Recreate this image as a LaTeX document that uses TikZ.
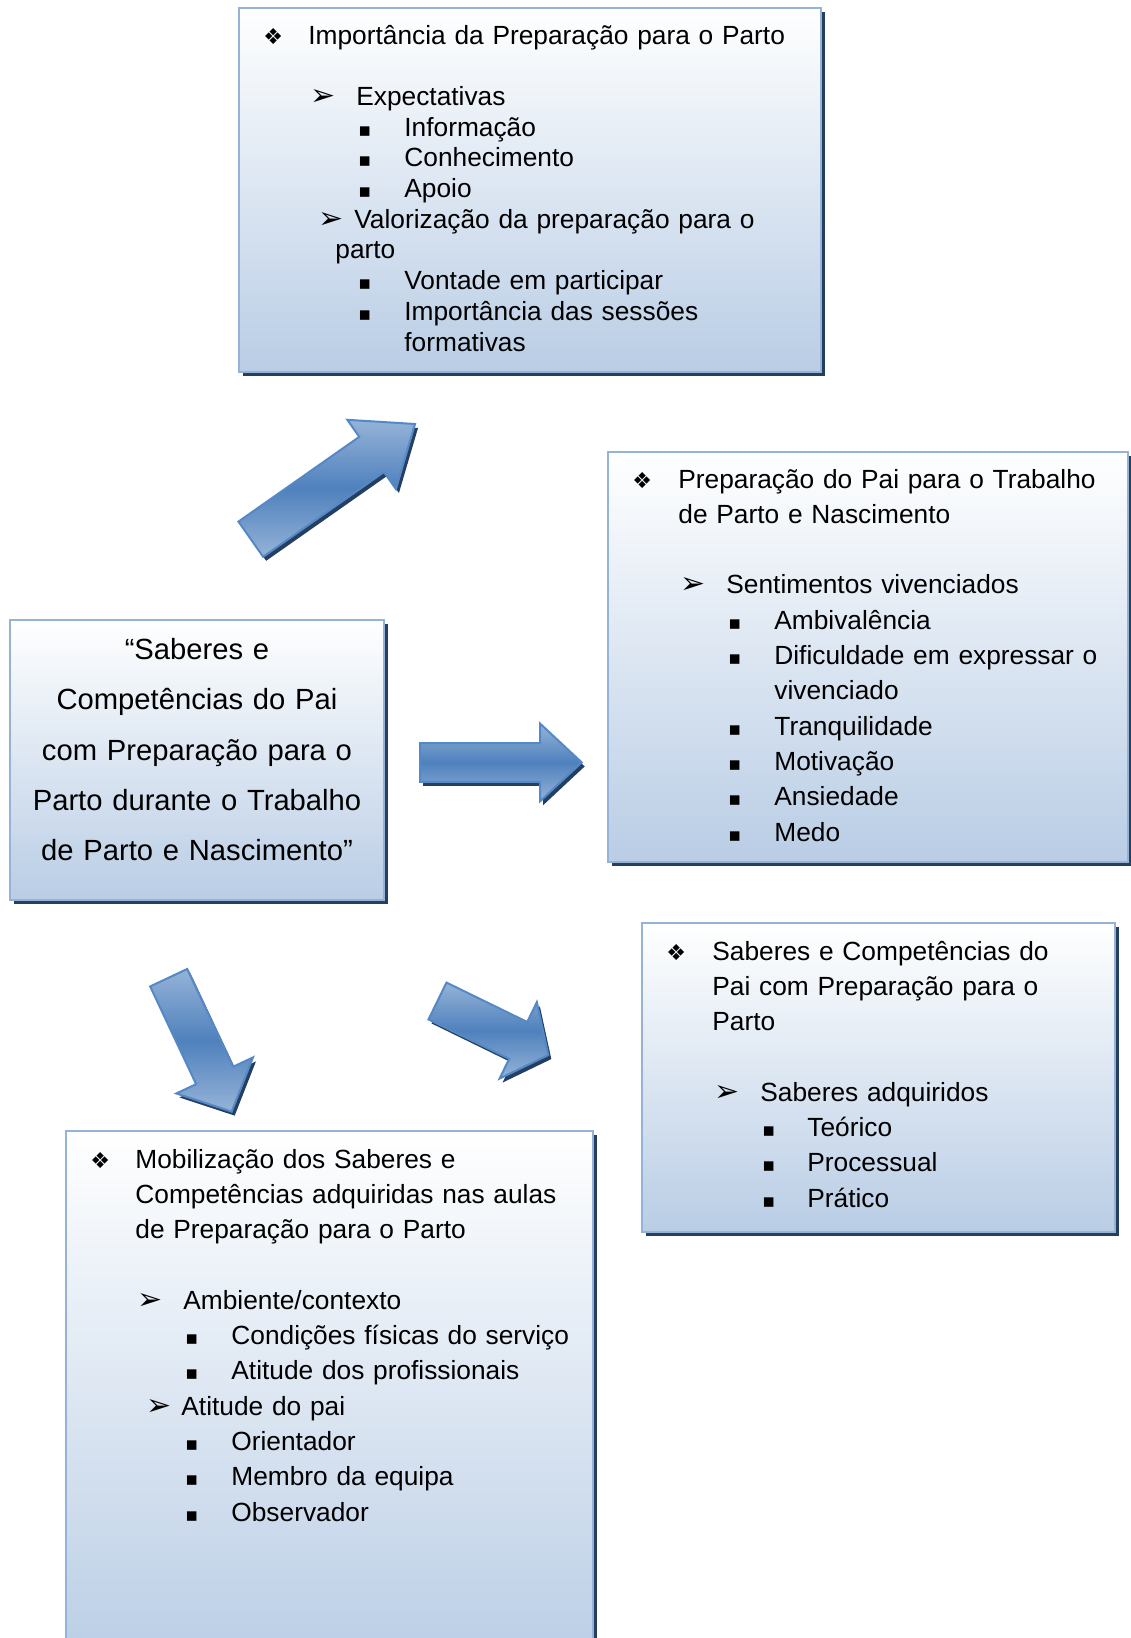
\documentclass[tikz,border=0pt]{standalone}
\usepackage{fontspec}
\setmainfont{Liberation Sans}
\newfontfamily\dingfont{DejaVu Sans}
\usepackage{tikz}
\usetikzlibrary{calc,positioning,shadows}
\definecolor{boxedge}{RGB}{149,179,215}
\definecolor{boxblue}{RGB}{185,205,229}
\definecolor{shadowblue}{RGB}{36,63,96}
\definecolor{arrowmid}{RGB}{79,129,189}
\definecolor{arrowlight}{RGB}{149,179,215}
\definecolor{arrowedge}{RGB}{84,136,199}
\newlength{\pxu}\setlength{\pxu}{0.5pt}
\newcommand{\diam}{{\dingfont\fontsize{11}{11}\selectfont ❖}}
\newcommand{\arrowhd}{{\dingfont\fontsize{15}{15}\selectfont ➢}}
\newcommand{\sqbul}{{\dingfont\fontsize{9.5}{9.5}\selectfont ▪}}
\newcommand{\itemrow}[4]{\makebox[0pt][l]{\hspace*{#1\pxu}#3}\hspace*{#2\pxu}#4}
% block arrow: tail, offset, angle, length, head length, half shaft, half head
\newcommand{\blockarrow}[7]{($(#1)+(#2)+(#3+90:#6)$) -- ($(#1)+(#2)+(#3:#4-#5)+(#3+90:#6)$) -- ($(#1)+(#2)+(#3:#4-#5)+(#3+90:#7)$) -- ($(#1)+(#2)+(#3:#4)$) -- ($(#1)+(#2)+(#3:#4-#5)+(#3-90:#7)$) -- ($(#1)+(#2)+(#3:#4-#5)+(#3-90:#6)$) -- ($(#1)+(#2)+(#3-90:#6)$) -- cycle}
\begin{document}
\begin{tikzpicture}[x=0.5pt, y=-0.5pt, box/.style={draw=boxedge, line width=1pt, top color=white, bottom color=boxblue, anchor=north west, inner sep=0pt, outer sep=0pt, drop shadow={shadow xshift=2pt, shadow yshift=-2pt, opacity=1, fill=shadowblue}}, txt/.style={anchor=base west, text width=300pt, align=left, inner sep=0pt}, arrowbody/.style={draw=arrowedge, line width=1pt, top color=arrowlight, bottom color=arrowlight, middle color=arrowmid}, arrowshadow/.style={fill=shadowblue}]
\useasboundingbox (0,0) rectangle (1130,1638);
\coordinate (upT) at (250.8,539.2);
\coordinate (rightT) at (420,762.4);
\coordinate (downT) at (168.7,977.7);
\coordinate (diagT) at (437.5,1001);
\path[arrowshadow] \blockarrow{upT}{3,4}{-35.05}{200.6}{53}{21.5}{42.3};
\path[arrowbody] \blockarrow{upT}{0,0}{-35.05}{200.6}{53}{21.5}{42.3};
\path[arrowshadow] \blockarrow{rightT}{3,4}{0}{161.7}{41.7}{19.4}{38.9};
\path[arrowbody] \blockarrow{rightT}{0,0}{0}{161.7}{41.7}{19.4}{38.9};
\path[arrowshadow] \blockarrow{downT}{3,4}{64.8}{148}{40}{20.5}{42.3};
\path[arrowbody] \blockarrow{downT}{0,0}{64.8}{148}{40}{20.5}{42.3};
\path[arrowshadow] \blockarrow{diagT}{3,4}{26}{123.3}{33.5}{20.5}{42.5};
\path[arrowbody] \blockarrow{diagT}{0,0}{26}{123.3}{33.5}{20.5}{42.5};
\node[box, minimum width=291pt, minimum height=182pt] (imp) at (239,8) {};
\node[box, minimum width=187pt, minimum height=140pt] (tema) at (10,620) {};
\node[box, minimum width=260pt, minimum height=205pt] (prep) at (608,452) {};
\node[box, minimum width=236.5pt, minimum height=154.5pt] (sab) at (642,923) {};
\node[box, minimum width=263.5pt, minimum height=270pt] (mob) at (66,1131) {};
\node[txt, font=\fontsize{13.15}{15.35}\selectfont] (impT) at ([shift={(0,36)}]imp.north west) {%
\itemrow{24}{69}{\diam}{Importância da Preparação para o Parto}\\[\baselineskip]
\itemrow{71}{117}{\arrowhd}{Expectativas}\\
\itemrow{119}{165}{\sqbul}{Informação}\\
\itemrow{119}{165}{\sqbul}{Conhecimento}\\
\itemrow{119}{165}{\sqbul}{Apoio}\\
\itemrow{79.5}{115}{\arrowhd}{Valorização da preparação para o}\\
\itemrow{0}{96}{}{parto}\\
\itemrow{119}{165}{\sqbul}{Vontade em participar}\\
\itemrow{119}{165}{\sqbul}{Importância das sessões}\\
\itemrow{0}{165}{}{formativas}};
\node[anchor=base, text width=185pt, align=center, inner sep=0pt, font=\fontsize{14.6}{25.15}\selectfont] (temaT) at (197,659.5) {“Saberes e\\Competências do Pai\\com Preparação para o\\Parto durante o Trabalho\\de Parto e Nascimento”};
\node[txt, font=\fontsize{13.15}{17.65}\selectfont] (prepT) at ([shift={(0,36)}]prep.north west) {%
\itemrow{24}{70}{\diam}{Preparação do Pai para o Trabalho}\\
\itemrow{0}{70}{}{de Parto e Nascimento}\\[\baselineskip]
\itemrow{72}{118}{\arrowhd}{Sentimentos vivenciados}\\
\itemrow{120}{166}{\sqbul}{Ambivalência}\\
\itemrow{120}{166}{\sqbul}{Dificuldade em expressar o}\\
\itemrow{0}{166}{}{vivenciado}\\
\itemrow{120}{166}{\sqbul}{Tranquilidade}\\
\itemrow{120}{166}{\sqbul}{Motivação}\\
\itemrow{120}{166}{\sqbul}{Ansiedade}\\
\itemrow{120}{166}{\sqbul}{Medo}};
\node[txt, font=\fontsize{13.15}{17.65}\selectfont] (sabT) at ([shift={(0,37)}]sab.north west) {%
\itemrow{24}{70}{\diam}{Saberes e Competências do}\\
\itemrow{0}{70}{}{Pai com Preparação para o}\\
\itemrow{0}{70}{}{Parto}\\[\baselineskip]
\itemrow{72}{118}{\arrowhd}{Saberes adquiridos}\\
\itemrow{120}{165}{\sqbul}{Teórico}\\
\itemrow{120}{165}{\sqbul}{Processual}\\
\itemrow{120}{165}{\sqbul}{Prático}};
\node[txt, font=\fontsize{13.15}{17.65}\selectfont] (mobT) at ([shift={(0,37)}]mob.north west) {%
\itemrow{24}{69}{\diam}{Mobilização dos Saberes e}\\
\itemrow{0}{69}{}{Competências adquiridas nas aulas}\\
\itemrow{0}{69}{}{de Preparação para o Parto}\\[\baselineskip]
\itemrow{71}{117}{\arrowhd}{Ambiente/contexto}\\
\itemrow{119}{165}{\sqbul}{Condições físicas do serviço}\\
\itemrow{119}{165}{\sqbul}{Atitude dos profissionais}\\
\itemrow{80}{115}{\arrowhd}{Atitude do pai}\\
\itemrow{119}{165}{\sqbul}{Orientador}\\
\itemrow{119}{165}{\sqbul}{Membro da equipa}\\
\itemrow{119}{165}{\sqbul}{Observador}};
\end{tikzpicture}
\end{document}
